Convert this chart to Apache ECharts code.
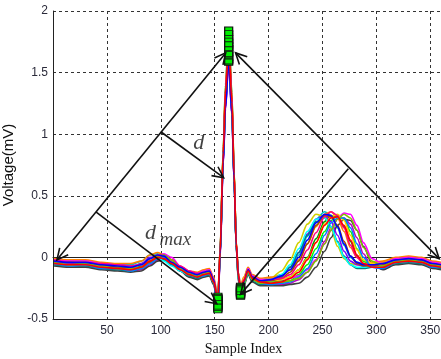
<!DOCTYPE html>
<html>
<head>
<meta charset="utf-8">
<script src="https://cdn.jsdelivr.net/npm/echarts@6/dist/echarts.min.js"></script>
<style>html,body{margin:0;padding:0;background:#fff}#c{width:441px;height:359px}</style>
</head>
<body>
<div id="c"></div>
<script>
// sample indices shared by all beats
var sampleIdx = [1,15,30,45,60,72,82,90,97,103,110,118,126,134,140,145,149,
  153,155,158,160,163,166,168,170,172,174,177,181,185,192,
  202,212,220,228,236,244,252,258,264,270,276,282,288,296,306,
  318,330,342,352,360];

var beat01 = [-0.04,-0.05,-0.05,-0.07,-0.08,-0.09,-0.07,-0.02,0.01,0.00,-0.04,-0.09,-0.13,-0.15,-0.13,-0.12,-0.19,
  -0.38,0.02,0.80,1.24,1.62,1.18,0.64,0.10,-0.15,-0.26,-0.19,-0.11,-0.17,-0.20,
  -0.20,-0.19,-0.16,-0.10,0.00,0.15,0.29,0.34,0.33,0.25,0.13,0.01,-0.05,-0.07,-0.06,
  -0.03,-0.02,-0.03,-0.06,-0.07];
var beat02 = [-0.02,-0.03,-0.03,-0.05,-0.06,-0.06,-0.03,0.02,0.03,0.00,-0.05,-0.09,-0.12,-0.13,-0.11,-0.10,-0.17,
  -0.35,0.06,0.84,1.30,1.70,1.24,0.67,0.12,-0.13,-0.24,-0.17,-0.09,-0.15,-0.18,
  -0.17,-0.14,-0.08,0.02,0.17,0.31,0.37,0.34,0.24,0.10,0.00,-0.04,-0.05,-0.05,-0.04,
  -0.01,0.00,-0.01,-0.04,-0.05];
var beat03 = [-0.06,-0.07,-0.07,-0.09,-0.10,-0.11,-0.10,-0.06,-0.02,-0.01,-0.04,-0.10,-0.15,-0.17,-0.15,-0.14,-0.21,
  -0.42,-0.02,0.76,1.20,1.58,1.15,0.62,0.08,-0.18,-0.30,-0.22,-0.13,-0.19,-0.22,
  -0.22,-0.22,-0.21,-0.18,-0.12,-0.02,0.13,0.24,0.31,0.32,0.27,0.16,0.03,-0.08,-0.09,
  -0.05,-0.04,-0.05,-0.08,-0.09];
var beat04 = [-0.03,-0.04,-0.04,-0.06,-0.07,-0.08,-0.05,-0.01,0.02,0.00,-0.04,-0.08,-0.12,-0.14,-0.12,-0.11,-0.18,
  -0.33,0.05,0.88,1.36,1.80,1.30,0.70,0.12,-0.16,-0.28,-0.20,-0.10,-0.16,-0.19,
  -0.17,-0.11,-0.02,0.12,0.27,0.35,0.33,0.23,0.09,-0.01,-0.05,-0.06,-0.06,-0.05,-0.04,
  -0.02,-0.01,-0.02,-0.05,-0.06];
var beat05 = [-0.07,-0.08,-0.08,-0.10,-0.11,-0.12,-0.11,-0.07,-0.03,-0.02,-0.05,-0.11,-0.16,-0.18,-0.16,-0.15,-0.22,
  -0.40,0.00,0.80,1.26,1.66,1.20,0.64,0.08,-0.19,-0.32,-0.23,-0.14,-0.20,-0.23,
  -0.23,-0.23,-0.22,-0.21,-0.16,-0.08,0.05,0.16,0.26,0.31,0.30,0.22,0.09,-0.05,-0.10,
  -0.06,-0.05,-0.06,-0.09,-0.10];
var beat06 = [-0.01,-0.02,-0.02,-0.04,-0.05,-0.05,-0.03,0.02,0.04,0.02,-0.02,-0.07,-0.11,-0.12,-0.10,-0.09,-0.16,
  -0.31,0.07,0.86,1.33,1.75,1.27,0.69,0.13,-0.12,-0.23,-0.16,-0.08,-0.14,-0.17,
  -0.16,-0.15,-0.10,-0.02,0.11,0.25,0.35,0.37,0.32,0.21,0.08,0.00,-0.03,-0.04,-0.03,
  0.00,0.01,0.00,-0.03,-0.04];
var beat07 = [-0.05,-0.06,-0.06,-0.08,-0.09,-0.10,-0.08,-0.04,0.00,0.00,-0.04,-0.10,-0.14,-0.16,-0.14,-0.13,-0.20,
  -0.36,0.04,0.90,1.40,1.85,1.34,0.72,0.11,-0.16,-0.27,-0.20,-0.12,-0.18,-0.21,
  -0.21,-0.20,-0.19,-0.14,-0.06,0.07,0.21,0.30,0.34,0.31,0.21,0.07,-0.03,-0.07,-0.08,
  -0.04,-0.03,-0.04,-0.07,-0.08];
var beat08 = [-0.04,-0.05,-0.05,-0.07,-0.08,-0.08,-0.05,0.00,0.01,-0.02,-0.06,-0.10,-0.14,-0.15,-0.13,-0.12,-0.20,
  -0.43,0.00,0.78,1.22,1.60,1.16,0.63,0.09,-0.15,-0.25,-0.18,-0.11,-0.17,-0.20,
  -0.19,-0.15,-0.08,0.04,0.19,0.31,0.34,0.29,0.18,0.05,-0.03,-0.06,-0.07,-0.07,-0.06,
  -0.03,-0.02,-0.03,-0.06,-0.07];
var beat09 = [-0.02,-0.03,-0.03,-0.05,-0.06,-0.07,-0.06,-0.03,0.01,0.03,0.00,-0.07,-0.11,-0.13,-0.11,-0.10,-0.17,
  -0.37,0.03,0.83,1.30,1.72,1.25,0.67,0.11,-0.17,-0.29,-0.21,-0.09,-0.15,-0.18,
  -0.18,-0.18,-0.17,-0.15,-0.10,-0.02,0.11,0.22,0.32,0.36,0.35,0.26,0.12,-0.01,-0.05,
  -0.01,0.00,-0.01,-0.04,-0.05];
var beat10 = [-0.06,-0.07,-0.07,-0.09,-0.10,-0.11,-0.09,-0.04,-0.01,-0.02,-0.06,-0.11,-0.15,-0.17,-0.15,-0.14,-0.21,
  -0.34,0.03,0.82,1.28,1.68,1.22,0.66,0.10,-0.18,-0.31,-0.22,-0.13,-0.19,-0.22,
  -0.21,-0.16,-0.08,0.04,0.18,0.29,0.32,0.25,0.13,0.01,-0.06,-0.09,-0.09,-0.08,-0.08,
  -0.05,-0.04,-0.05,-0.08,-0.09];
var beat11 = [-0.03,-0.04,-0.04,-0.06,-0.07,-0.08,-0.06,-0.02,0.02,0.01,-0.03,-0.08,-0.12,-0.14,-0.12,-0.11,-0.18,
  -0.39,0.04,0.86,1.35,1.78,1.29,0.70,0.12,-0.14,-0.24,-0.17,-0.10,-0.16,-0.19,
  -0.19,-0.18,-0.16,-0.10,-0.01,0.12,0.27,0.33,0.35,0.30,0.18,0.06,-0.02,-0.05,-0.05,
  -0.02,-0.01,-0.02,-0.05,-0.06];
var beat12 = [-0.05,-0.06,-0.06,-0.08,-0.09,-0.09,-0.06,-0.01,0.00,-0.03,-0.07,-0.11,-0.14,-0.16,-0.14,-0.13,-0.20,
  -0.32,0.04,0.81,1.27,1.64,1.19,0.65,0.09,-0.18,-0.30,-0.22,-0.12,-0.18,-0.21,
  -0.20,-0.14,-0.06,0.07,0.21,0.31,0.32,0.25,0.12,0.00,-0.06,-0.08,-0.08,-0.07,-0.07,
  -0.04,-0.03,-0.04,-0.07,-0.08];
var beat13 = [-0.03,-0.04,-0.05,-0.06,-0.08,-0.09,-0.08,-0.04,0.00,0.01,-0.02,-0.08,-0.12,-0.14,-0.13,-0.12,-0.19,
  -0.41,0.02,0.84,1.32,1.76,1.28,0.68,0.11,-0.15,-0.27,-0.20,-0.11,-0.17,-0.20,
  -0.19,-0.17,-0.12,-0.03,0.11,0.26,0.34,0.33,0.26,0.13,0.01,-0.05,-0.07,-0.07,-0.06,
  -0.03,-0.02,-0.03,-0.06,-0.07];
var beat14 = [-0.02,-0.04,-0.04,-0.05,-0.06,-0.07,-0.06,-0.01,0.02,0.02,-0.02,-0.07,-0.11,-0.13,-0.12,-0.11,-0.18,
  -0.34,0.05,0.88,1.38,1.82,1.32,0.71,0.12,-0.13,-0.25,-0.18,-0.10,-0.16,-0.19,
  -0.18,-0.17,-0.14,-0.06,0.06,0.20,0.33,0.37,0.34,0.24,0.10,0.00,-0.05,-0.06,-0.05,
  -0.02,-0.01,-0.02,-0.05,-0.06];
var beat15 = [-0.05,-0.07,-0.06,-0.09,-0.09,-0.11,-0.09,-0.05,-0.01,0.00,-0.04,-0.10,-0.14,-0.16,-0.15,-0.13,-0.20,
  -0.38,0.01,0.83,1.30,1.70,1.23,0.66,0.09,-0.17,-0.29,-0.21,-0.12,-0.18,-0.21,
  -0.22,-0.21,-0.20,-0.16,-0.09,0.03,0.18,0.28,0.32,0.32,0.24,0.11,0.00,-0.08,-0.09,
  -0.04,-0.03,-0.04,-0.08,-0.08];
var beat16 = [-0.04,-0.06,-0.05,-0.07,-0.09,-0.09,-0.08,-0.03,0.01,0.02,-0.02,-0.09,-0.13,-0.15,-0.13,-0.12,-0.20,
  -0.36,0.02,0.81,1.26,1.65,1.20,0.64,0.09,-0.17,-0.31,-0.22,-0.12,-0.18,-0.21,
  -0.20,-0.20,-0.19,-0.17,-0.12,-0.03,0.11,0.22,0.31,0.35,0.32,0.22,0.08,-0.03,-0.07,
  -0.03,-0.02,-0.03,-0.06,-0.07];
var beat17 = [-0.03,-0.04,-0.04,-0.06,-0.07,-0.08,-0.06,-0.01,0.02,0.01,-0.04,-0.08,-0.12,-0.14,-0.12,-0.11,-0.18,
  -0.40,0.01,0.77,1.21,1.59,1.16,0.62,0.10,-0.15,-0.28,-0.20,-0.10,-0.16,-0.19,
  -0.18,-0.15,-0.10,0.00,0.14,0.28,0.35,0.34,0.25,0.11,0.01,-0.04,-0.06,-0.06,-0.05,
  -0.02,-0.01,-0.02,-0.05,-0.06];
var beat18 = [-0.05,-0.06,-0.06,-0.08,-0.09,-0.10,-0.08,-0.03,0.00,-0.01,-0.05,-0.10,-0.14,-0.16,-0.14,-0.13,-0.20,
  -0.33,0.04,0.85,1.33,1.73,1.26,0.68,0.11,-0.15,-0.26,-0.19,-0.11,-0.17,-0.20,
  -0.21,-0.20,-0.17,-0.12,-0.02,0.12,0.26,0.32,0.33,0.26,0.14,0.02,-0.05,-0.08,-0.08,
  -0.04,-0.03,-0.04,-0.07,-0.08];

var beats = [beat01,beat02,beat03,beat04,beat05,beat06,beat07,beat08,beat09,
  beat10,beat11,beat12,beat13,beat14,beat15,beat16,beat17,beat18];

// fiducial points marked with squares (sample indices of Q, R, S)
var fiducialIdx = [153, 163, 174];

// annotation arrows (data units): start x/y, end x/y, double-headed flag
var arrowX1 = [3.7, 169.4, 100.0, 39.8, 274.0];
var arrowY1 = [-0.02, 1.66, 1.02, 0.37, 0.72];
var arrowX2 = [160.2, 358.3, 158.3, 151.9, 174.0];
var arrowY2 = [1.66, -0.01, 0.647, -0.376, -0.30];
var arrowBoth = [1, 1, 0, 0, 0];

// annotation texts
var noteText = ['d', 'd', 'max'];
var noteX = [135.2, 90.5, 113.5];
var noteY = [0.925, 0.20, 0.14];

var xTicks = [50, 100, 150, 200, 250, 300, 350];

var palette = ['#00a000','#00c0c0','#c000c0','#d0d000','#404040','#ff8000','#00ff00','#8000ff','#ff00ff',
  '#008080','#ffd000','#00ffff','#a05000','#ff0080','#0080ff','#80c000','#0000ff','#ff0000'];

var series = [];
beats.forEach(function (b, i) {
  series.push({
    type: 'line', data: sampleIdx.map(function (s, k) { return [s, b[k]]; }),
    showSymbol: false, smooth: 0.3, smoothMonotone: 'x',
    lineStyle: { width: 1.6, color: palette[i % palette.length] },
    z: 2, silent: true
  });
});

var markerData = [];
beats.forEach(function (b) {
  fiducialIdx.forEach(function (fx) {
    markerData.push([fx, b[sampleIdx.indexOf(fx)]]);
  });
});
series.push({
  type: 'scatter', data: markerData, symbol: 'rect', symbolSize: [8, 5],
  itemStyle: { color: '#00ee00', borderColor: '#111', borderWidth: 1, opacity: 1 }, z: 4
});

function head(tip, from) {
  var dx = tip[0] - from[0], dy = tip[1] - from[1];
  var L = Math.sqrt(dx * dx + dy * dy), ux = dx / L, uy = dy / L;
  var len = 11, w = 5.5;
  var bx = tip[0] - ux * len, by = tip[1] - uy * len;
  return { type: 'polyline', shape: { points: [[bx - uy * w, by + ux * w], tip, [bx + uy * w, by - ux * w]] },
    style: { stroke: '#111', lineWidth: 1.6, fill: null } };
}
series.push({
  type: 'custom', z: 5, silent: true,
  data: arrowX1.map(function (x, i) { return [x, arrowY1[i], arrowX2[i], arrowY2[i], arrowBoth[i]]; }),
  encode: { x: [0, 2], y: [1, 3] },
  renderItem: function (params, api) {
    var p1 = api.coord([api.value(0), api.value(1)]);
    var p2 = api.coord([api.value(2), api.value(3)]);
    var ch = [{ type: 'line', shape: { x1: p1[0], y1: p1[1], x2: p2[0], y2: p2[1] }, style: { stroke: '#111', lineWidth: 1.6 } }];
    ch.push(head(p2, p1));
    if (api.value(4)) ch.push(head(p1, p2));
    return { type: 'group', children: ch };
  }
});

series.push({
  type: 'scatter', symbolSize: 0, z: 6, silent: true,
  data: noteText.map(function (t, i) {
    return { value: [noteX[i], noteY[i]], label: { show: true, position: 'inside', formatter: t,
      fontFamily: 'Liberation Serif', fontStyle: 'italic', fontSize: t === 'max' ? 19 : 22, color: '#111' } };
  })
});

var chart = echarts.init(document.getElementById('c'), null, { renderer: 'canvas' });
chart.setOption({
  animation: false,
  backgroundColor: '#fff',
  grid: { left: 53, right: 0, top: 11, bottom: 40, containLabel: false, outerBoundsMode: 'none' },
  xAxis: [{
    type: 'value', min: 0, max: 360, interval: 50,
    name: 'Sample Index', nameLocation: 'middle', nameGap: 22,
    nameTextStyle: { fontFamily: 'Liberation Serif', fontSize: 14, color: '#111', padding: [0, 7, 0, 0] },
    axisLine: { show: true, onZero: false, lineStyle: { color: '#222', width: 1 } },
    axisTick: { show: false },
    axisLabel: { margin: 6, fontFamily: 'Liberation Sans', fontSize: 12, color: '#2a2a3a',
      formatter: function (v) { return xTicks.indexOf(v) >= 0 ? String(v) : ''; } },
    splitLine: { show: true, lineStyle: { type: [3, 3], color: '#333', width: 1 } }
  }, {
    type: 'value', min: 0, max: 360, position: 'top',
    axisLine: { show: true, lineStyle: { color: '#222', width: 1 } },
    axisTick: { show: false }, axisLabel: { show: false }, splitLine: { show: false }
  }],
  yAxis: {
    type: 'value', min: -0.5, max: 2, interval: 0.5,
    name: 'Voltage(mV)', nameLocation: 'middle', nameGap: 33, nameRotate: 90,
    nameTextStyle: { fontFamily: 'Liberation Sans', fontSize: 15, color: '#111' },
    axisLine: { show: true, onZero: false, lineStyle: { color: '#222', width: 1 } },
    axisTick: { show: false },
    axisLabel: { margin: 5, fontFamily: 'Liberation Sans', fontSize: 12, color: '#2a2a3a' },
    splitLine: { show: true, lineStyle: { type: [3, 3], color: '#333', width: 1 } }
  },
  series: series
});
</script>
</body>
</html>
